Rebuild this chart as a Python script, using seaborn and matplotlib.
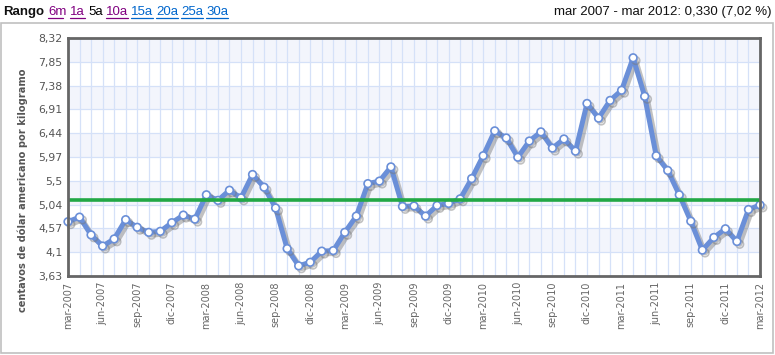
import matplotlib
matplotlib.use("Agg")
import matplotlib.pyplot as plt
import matplotlib.patheffects as pe
from matplotlib.patches import Rectangle
import seaborn as sns
import pandas as pd
import numpy as np

months = ["mar", "abr", "may", "jun", "jul", "ago", "sep", "oct", "nov", "dic", "ene", "feb"]
labels = []
y, m = 2007, 0
for i in range(61):
    labels.append(f"{months[m]}-{y}")
    m += 1
    if m == 10:
        y += 1
    if m == 12:
        m = 0

values = [4.70, 4.79, 4.44, 4.22, 4.36, 4.74, 4.59, 4.49, 4.51, 4.68,
          4.83, 4.75, 5.23, 5.12, 5.32, 5.17, 5.63, 5.38, 4.97, 4.17,
          3.83, 3.90, 4.12, 4.13, 4.49, 4.81, 5.45, 5.50, 5.78, 5.00,
          5.01, 4.81, 5.02, 5.06, 5.15, 5.55, 6.00, 6.49, 6.35, 5.97,
          6.29, 6.47, 6.15, 6.33, 6.09, 7.03, 6.74, 7.09, 7.29, 7.93,
          7.17, 6.00, 5.71, 5.23, 4.71, 4.14, 4.39, 4.56, 4.31, 4.94,
          5.03]
average = 5.12
ytick_labels = ["3,63", "4,1", "4,57", "5,04", "5,5", "5,97", "6,44", "6,91", "7,38", "7,85", "8,32"]

df = pd.DataFrame({"idx": np.arange(len(values)), "valor": values, "mes": labels})

sns.set_style("white")
plt.rcParams['font.family'] = ['DejaVu Sans']

fig = plt.figure(figsize=(7.75, 3.55), dpi=100)
ax = fig.add_axes([68/775, 1-276/355, (760-68)/775, (276-38)/355])

# outer border
fig.patches.append(Rectangle((1/775, 1-353/355), 772/775, 330/355, transform=fig.transFigure,
                             fill=False, edgecolor="#c0c0c0", linewidth=1.2, zorder=0))

ymin, ymax = 3.63, 8.32
step = (ymax - ymin) / 10
for i in range(10):
    lo = ymin + i * step
    if i % 2 == 1:
        ax.axhspan(lo, lo + step, color="#f3f5fc", zorder=0, lw=0)
for i in range(len(values)):
    ax.axvline(i, color="#d5e1f8", lw=0.9, zorder=0.5)
for i in range(11):
    ax.axhline(ymin + i * step, color="#d5e1f8", lw=0.9, zorder=0.5)

sns.lineplot(data=df, x="idx", y="valor", ax=ax, color="#6a8fd8", lw=3.6,
             marker="o", markersize=5.5, markerfacecolor="white",
             markeredgecolor="#6a8fd8", markeredgewidth=1.2, zorder=3,
             clip_on=False)
ax.lines[-1].set_path_effects([pe.SimpleLineShadow(offset=(2, -2), shadow_color="#777777", alpha=0.45),
                               pe.Normal()])

ax.axhline(average, color="#22a845", lw=2.6, zorder=4)

ax.set_xlim(0, len(values) - 1)
ax.set_ylim(ymin, ymax)
ax.set_yticks([ymin + i * step for i in range(11)])
ax.set_yticklabels(ytick_labels, color="#555555", fontsize=7.8)
ax.set_xticks(df["idx"][::3])
ax.set_xticklabels(df["mes"][::3], rotation=90, color="#666666", fontsize=7)
ax.tick_params(axis="both", length=0, pad=4)
ax.set_xlabel("")
ax.set_ylabel("")
for s in ax.spines.values():
    s.set_visible(True)
    s.set_color("#666666")
    s.set_linewidth(2)
    s.set_zorder(5)

fig.text(23/775, 1-190/355, "centavos de dólar americano por kilogramo", rotation=90,
         ha="center", va="center", fontsize=7.1, fontweight="bold", color="#555555")

# header
hy = 1 - 12/355
fig.text(3/775, hy, "Rango", fontsize=9.5, fontweight="bold", family="Liberation Sans",
         va="center", ha="left", color="#111111")
items = [("6m", "#800080", 48), ("1a", "#800080", 70), ("5a", "#000000", 88),
         ("10a", "#800080", 106), ("15a", "#0066cc", 131), ("20a", "#0066cc", 156),
         ("25a", "#0066cc", 181), ("30a", "#0066cc", 206)]
for txt, col, x in items:
    fig.text(x/775, hy, txt, fontsize=9.5, family="Liberation Sans", va="center",
             ha="left", color=col)
    if txt != "5a":
        fig.lines.append(plt.Line2D([x/775, (x + (7.3 * len(txt)))/775],
                                    [1-18/355, 1-18/355], transform=fig.transFigure,
                                    color=col, lw=0.9))
fig.text(771/775, hy, "mar 2007 - mar 2012: 0,330 (7,02 %)", fontsize=9.5,
         family="Liberation Sans", va="center", ha="right", color="#111111")

fig.savefig("out.png", dpi=100)
